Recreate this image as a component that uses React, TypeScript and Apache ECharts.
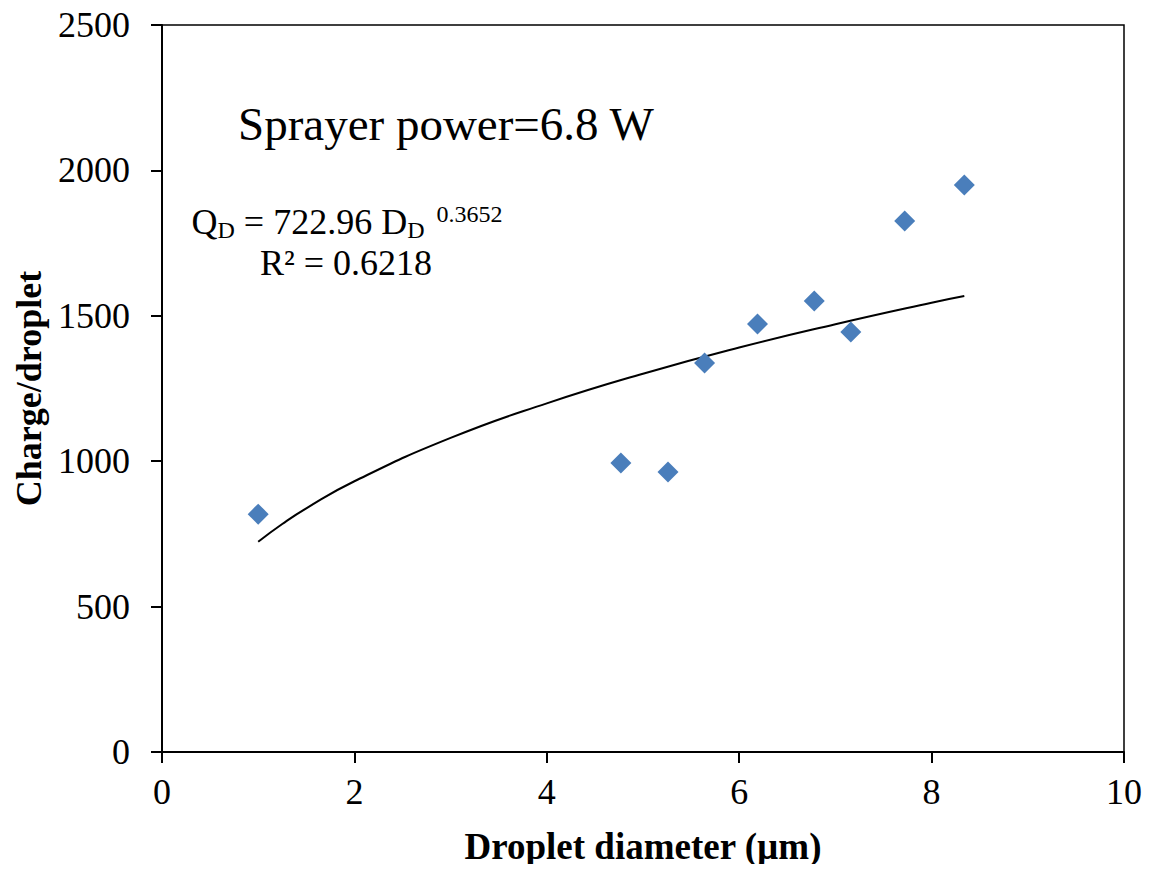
import React, { useEffect, useRef } from "react";
import * as echarts from "echarts";

const diameters = [1.0, 4.77, 5.26, 5.64, 6.19, 6.78, 7.16, 7.72, 8.34];
const charges = [818, 994, 963, 1338, 1472, 1551, 1444, 1826, 1950];

// Points
const trendX = [1.0, 1.25, 1.5, 2, 3, 4, 5, 6, 7, 8, 8.34];
const trendY = [723, 784, 838, 931, 1080, 1199, 1301, 1391, 1471, 1545, 1568];

const xTicks = [0, 2, 4, 6, 8, 10];
const yTicks = [0, 500, 1000, 1500, 2000, 2500];

const FONT = "Liberation Serif";

export default function App() {
  const ref = useRef<HTMLDivElement>(null);
  useEffect(() => {
    if (!ref.current) return;
    const chart = echarts.init(ref.current, undefined, { renderer: "svg" });
    chart.setOption({
      animation: false,
      textStyle: { fontFamily: FONT },
      grid: {
        left: 162,
        right: 26,
        top: 25,
        bottom: 120,
        show: true,
        borderColor: "#000",
        borderWidth: 1.5,
        containLabel: false,
        outerBoundsMode: "none",
      },
      xAxis: {
        type: "value",
        min: xTicks[0],
        max: xTicks[xTicks.length - 1],
        interval: 2,
        name: "Droplet diameter (µm)",
        nameLocation: "middle",
        nameGap: 76,
        nameTextStyle: { fontFamily: FONT, fontSize: 37, fontWeight: "bold", color: "#000" },
        axisLine: { show: true, onZero: false, lineStyle: { color: "#000", width: 2 } },
        axisTick: { show: true, inside: false, length: 11, lineStyle: { color: "#000", width: 2 } },
        axisLabel: { fontFamily: FONT, fontSize: 36, color: "#000", margin: 22, formatter: (v: number) => String(v) },
        splitLine: { show: false },
      },
      yAxis: {
        type: "value",
        min: yTicks[0],
        max: yTicks[yTicks.length - 1],
        interval: 500,
        name: "Charge/droplet",
        nameLocation: "middle",
        nameGap: 112,
        nameTextStyle: { fontFamily: FONT, fontSize: 36, fontWeight: "bold", color: "#000" },
        axisLine: { show: true, onZero: false, lineStyle: { color: "#000", width: 2 } },
        axisTick: { show: true, inside: false, length: 11, lineStyle: { color: "#000", width: 2 } },
        axisLabel: { fontFamily: FONT, fontSize: 36, color: "#000", margin: 32, formatter: (v: number) => String(v) },
        splitLine: { show: false },
      },
      series: [
        {
          type: "line",
          data: trendX.map((x, i) => [x, trendY[i]]),
          smooth: true,
          showSymbol: false,
          symbol: "none",
          lineStyle: { color: "#000", width: 2 },
          z: 2,
        },
        {
          type: "scatter",
          data: diameters.map((x, i) => [x, charges[i]]),
          symbol: "diamond",
          symbolSize: 21,
          itemStyle: { color: "#4a7ebb", opacity: 1 },
          z: 3,
        },
      ],
      graphic: [
        {
          type: "text",
          left: 238,
          top: 100,
          style: {
            text: "Sprayer power=6.8 W",
            fontFamily: FONT,
            fontSize: 47,
            fill: "#000",
          },
        },
        {
          type: "text",
          x: 347,
          y: 202,
          style: {
            text: "{m|Q}{s|D}{m| = 722.96 D}{s|D}{p|  0.3652}",
            textAlign: "center",
            fill: "#000",
            rich: {
              m: { fontFamily: FONT, fontSize: 36, lineHeight: 40, color: "#000" },
              s: { fontFamily: FONT, fontSize: 24, lineHeight: 20, verticalAlign: "bottom", color: "#000" },
              p: { fontFamily: FONT, fontSize: 24, lineHeight: 22, verticalAlign: "top", color: "#000" },
            },
          },
        },
        {
          type: "text",
          x: 346,
          y: 245,
          style: {
            text: "R² = 0.6218",
            textAlign: "center",
            fontFamily: FONT,
            fontSize: 36,
            lineHeight: 36,
            fill: "#000",
          },
        },
      ],
    });
    return () => chart.dispose();
  }, []);
  return <div ref={ref} style={{ width: 1150, height: 872, margin: -8 }} />;
}
